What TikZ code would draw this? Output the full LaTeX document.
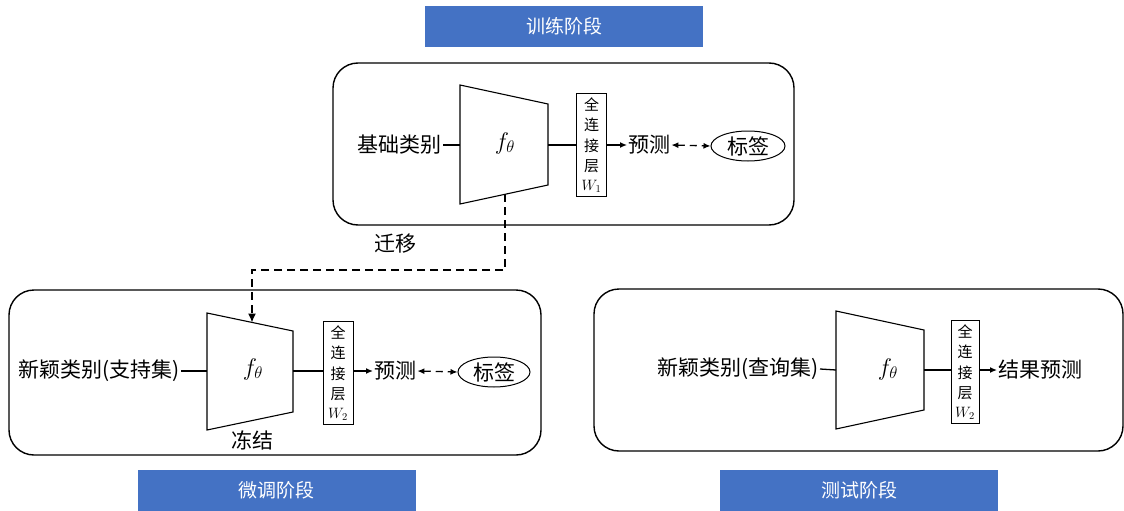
\RequirePackage{fix-cm}
\documentclass[tikz,border=0pt]{standalone}
\usepackage{fontspec}
\setmainfont{Liberation Serif}
\newfontfamily\cjk{Noto Sans CJK SC}
\usetikzlibrary{arrows.meta,shapes.geometric}
\definecolor{bannerblue}{HTML}{4472C4}
\tikzset{
  stage/.style={fill=bannerblue, text=white, minimum width=278pt, minimum height=41pt, inner sep=0pt, font=\cjk\fontsize{19}{22}\selectfont},
  panel/.style={draw, rounded corners=25pt, line width=1.4pt, inner sep=0pt},
  fcbox/.style={draw, line width=1pt, minimum width=30pt, minimum height=103pt, inner sep=0pt, align=center, font=\cjk\fontsize{15}{20.5}\selectfont},
  lbl/.style={font=\cjk\fontsize{21}{24}\selectfont, inner sep=1pt},
  ell/.style={draw, ellipse, line width=1pt, minimum width=74pt, minimum height=30pt, inner sep=0pt, font=\cjk\fontsize{21}{24}\selectfont},
  trap/.style={draw, line width=1.1pt},
  conn/.style={line width=1.3pt},
  arr/.style={line width=1.3pt, -{Latex[length=7pt,width=6pt]}},
  darr/.style={line width=1.3pt, dash pattern=on 7pt off 5pt, {Latex[length=7pt,width=6pt]}-{Latex[length=7pt,width=6pt]}},
  fth/.style={font=\fontsize{24}{28}\selectfont}
}
\newcommand{\wsub}[1]{$W_{\fontsize{9}{10}\selectfont #1}$}
\begin{document}
\begin{tikzpicture}[x=1pt,y=-1pt]
\useasboundingbox (0,0) rectangle (1124,511);

% banners
\node[stage] (b1) at (564,26.5) {训练阶段};
\node[stage] (b2) at (276.5,490.5) {微调阶段};
\node[stage] (b3) at (859,490.5) {测试阶段};

% panels
\node[panel, minimum width=461pt, minimum height=162pt] (p1) at (563.5,144) {};
\node[panel, minimum width=532pt, minimum height=165pt] (p2) at (275,372.5) {};
\node[panel, minimum width=529pt, minimum height=162pt] (p3) at (858.5,370) {};

% ---------- training stage ----------
\coordinate (t1a) at (460,85);
\coordinate (t1b) at (548,104);
\coordinate (t1c) at (548,185);
\coordinate (t1d) at (460,204);
\draw[trap] (t1a) -- (t1b) -- (t1c) -- (t1d) -- cycle;
\coordinate (t1l) at (460,145);
\coordinate (t1r) at (548,145);
\coordinate (t1s) at (505,194);
\node[fth] (f1) at (505,143) {$f_\theta$};
\node[fcbox] (fc1) at (591.5,145) {全\\连\\接\\层\\[-2pt]\wsub{1}};
\node[lbl, anchor=east] (in1) at (443,145) {基础类别};
\node[lbl, anchor=west] (pr1) at (627,145) {预测};
\node[ell] (lb1) at (748,146) {标签};
\draw[conn] (in1.east) -- (t1l);
\draw[conn] (t1r) -- (fc1.west |- t1r);
\draw[arr] (fc1.east |- pr1.west) -- (pr1.west);
\draw[darr] (pr1.east) -- (lb1.west);

% ---------- fine-tuning stage ----------
\coordinate (t2a) at (207,313);
\coordinate (t2b) at (293,331);
\coordinate (t2c) at (293,412);
\coordinate (t2d) at (207,430);
\draw[trap] (t2a) -- (t2b) -- (t2c) -- (t2d) -- cycle;
\coordinate (t2l) at (207,371);
\coordinate (t2r) at (293,371);
\coordinate (t2t) at (252,322.5);
\node[fth] (f2) at (253,369) {$f_\theta$};
\node[fcbox] (fc2) at (338,373) {全\\连\\接\\层\\[-2pt]\wsub{2}};
\node[lbl, anchor=east] (in2) at (181,371) {新颖类别(支持集)};
\node[lbl, anchor=west] (pr2) at (373,371) {预测};
\node[ell, minimum width=72pt] (lb2) at (494,372) {标签};
\node[lbl] (fr) at (252,440) {冻结};
\draw[conn] (in2.east) -- (t2l);
\draw[conn] (t2r) -- (fc2.west |- t2r);
\draw[arr] (fc2.east |- pr2.west) -- (pr2.west);
\draw[darr] (pr2.east) -- (lb2.west);

% transfer
\coordinate (bend) at (505,270);
\node[lbl] (tr) at (395,244) {迁移};
\draw[line width=1.4pt, dash pattern=on 8pt off 5pt, -{Latex[length=9pt,width=8pt]}] (t1s) -- (bend) -| (t2t);

% ---------- testing stage ----------
\coordinate (t3a) at (836,311);
\coordinate (t3b) at (924,330);
\coordinate (t3c) at (924,410);
\coordinate (t3d) at (836,429);
\draw[trap] (t3a) -- (t3b) -- (t3c) -- (t3d) -- cycle;
\coordinate (t3l) at (836,370);
\coordinate (t3r) at (924,370);
\node[fth] (f3) at (888,369) {$f_\theta$};
\node[fcbox, minimum width=28pt] (fc3) at (965,372) {全\\连\\接\\层\\[-2pt]\wsub{2}};
\node[lbl, anchor=east] (in3) at (820,369) {新颖类别(查询集)};
\node[lbl, anchor=west] (res) at (997,370) {结果预测};
\draw[conn] (in3.east) -- (t3l);
\draw[conn] (t3r) -- (fc3.west |- t3r);
\draw[arr] (fc3.east |- res.west) -- (res.west);
\end{tikzpicture}
\end{document}
